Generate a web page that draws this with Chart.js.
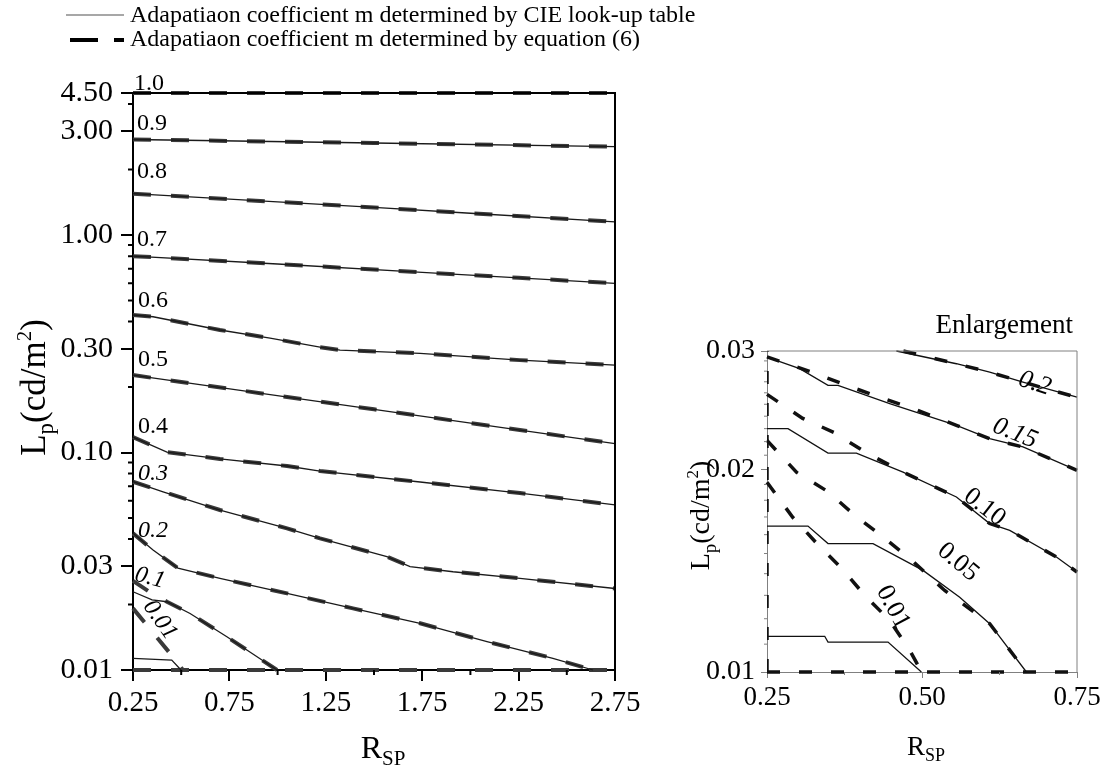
<!DOCTYPE html>
<html>
<head>
<meta charset="utf-8">
<script src="https://cdn.jsdelivr.net/npm/chart.js@4.4.1/dist/chart.umd.min.js"></script>
<style>
  body { margin: 0; background: #fff; width: 1110px; height: 784px; position: relative; overflow: hidden; }
  canvas { position: absolute; }
  #mainChart { left: 0; top: 0; }
  #zoomChart { left: 640px; top: 280px; }
</style>
</head>
<body>
<canvas id="mainChart" width="760" height="784"></canvas>
<canvas id="zoomChart" width="470" height="504"></canvas>
<script>
const legendLabels = [
    'Adapatiaon coefficient m determined by CIE look-up table',
    'Adapatiaon coefficient m determined by equation (6)',
];

// left panel: axis ticks
const mainXTicks = [0.25, 0.75, 1.25, 1.75, 2.25, 2.75];
const mainXMinor = [0.5, 1.0, 1.5, 2.0, 2.5];
const mainYTicks = [0.01, 0.03, 0.1, 0.3, 1, 3, 4.5];
const mainYMinor = [0.02, 0.04, 0.05, 0.06, 0.07, 0.08, 0.09, 0.2, 0.4, 0.5, 0.6, 0.7, 0.8, 0.9, 2, 4];

// left panel: contour lines as [R_SP, L_p] pairs
const cie_1_0 = [[0.25, 4.5], [2.75, 4.5]];
const cie_0_9 = [[0.25, 2.75], [1.5, 2.65], [2.75, 2.55]];
const cie_0_8 = [[0.25, 1.55], [1.0, 1.42], [1.5, 1.34], [2.0, 1.26], [2.75, 1.15]];
const cie_0_7 = [[0.25, 0.80], [1.0, 0.736], [1.75, 0.674], [2.25, 0.636], [2.75, 0.60]];
const cie_0_6 = [[0.25, 0.429], [0.354, 0.421], [0.701, 0.366], [0.961, 0.336], [1.22, 0.305], [1.324, 0.296], [1.739, 0.286], [2.257, 0.266], [2.75, 0.2525]];
const cie_0_5 = [[0.25, 0.227], [1.5, 0.158], [2.75, 0.110]];
const cie_0_4 = [[0.25, 0.1178], [0.426, 0.1005], [0.701, 0.0934], [1.049, 0.0867], [1.22, 0.0822], [1.739, 0.0732], [2.257, 0.0651], [2.75, 0.0574]];
const cie_0_3 = [[0.25, 0.0734], [0.406, 0.066], [0.701, 0.0544], [1.049, 0.0448], [1.22, 0.0403], [1.567, 0.0332], [1.687, 0.0299], [1.91, 0.0283], [2.257, 0.0264], [2.75, 0.0237]];
const cie_0_2 = [[0.25, 0.0425], [0.354, 0.0356], [0.483, 0.0294], [0.701, 0.0264], [1.049, 0.0225], [1.391, 0.0192], [1.739, 0.0164], [2.086, 0.0135], [2.428, 0.01132], [2.636, 0.01]];
const cie_0_1 = [[0.25, 0.0229], [0.349, 0.021], [0.426, 0.0206], [0.546, 0.0182], [0.737, 0.01422], [0.997, 0.01]];
const cie_0_01 = [[0.25, 0.01132], [0.451, 0.0111], [0.499, 0.01]];
const eq_0_1 = [[0.25, 0.0257], [0.328, 0.0231], [0.426, 0.0206], [0.546, 0.0182], [0.737, 0.01422], [0.997, 0.01]];
const eq_0_01 = [[0.25, 0.0192], [0.338, 0.01544], [0.442, 0.01193], [0.509, 0.01]];
const eq_floor = [[0.25, 0.01], [2.75, 0.01]];

const mainLabelText = ['1.0', '0.9', '0.8', '0.7', '0.6', '0.5', '0.4', '0.3', '0.2', '0.1', '0.01'];
const mainLabelR = [0.333, 0.349, 0.349, 0.349, 0.354, 0.354, 0.354, 0.354, 0.354, 0.338, 0.39];
const mainLabelL = [4.95, 3.24, 1.95, 0.948, 0.50, 0.266, 0.131, 0.0796, 0.0436, 0.0265, 0.017];

// right panel (enlargement)
const zoomXTicks = [0.25, 0.5, 0.75];
const zoomXMinor = [0.375, 0.625];
const zoomYTicks = [0.01, 0.02, 0.03];
const zoomYMinor = [0.011, 0.012, 0.013, 0.014, 0.015, 0.016, 0.017, 0.018, 0.019,
    0.021, 0.022, 0.023, 0.024, 0.025, 0.026, 0.027, 0.028, 0.029];

const zoomCie_0_2 = [[0.4587, 0.03], [0.5555, 0.02872], [0.6092, 0.02791], [0.6629, 0.02697], [0.75, 0.02562]];
const zoomCie_0_15 = [[0.25, 0.02938], [0.3027, 0.02824], [0.3484, 0.02667], [0.3645, 0.02667], [0.4479, 0.02505], [0.5555, 0.02326], [0.6092, 0.02222], [0.6629, 0.0216], [0.75, 0.01994]];
const zoomCie_0_10 = [[0.25, 0.023], [0.2839, 0.023], [0.3484, 0.02115], [0.3942, 0.02115], [0.4694, 0.01982], [0.5555, 0.0182], [0.6092, 0.01662], [0.6415, 0.01624], [0.7168, 0.01482], [0.75, 0.01408]];
const zoomCie_0_05 = [[0.25, 0.01648], [0.3161, 0.01648], [0.3484, 0.01552], [0.421, 0.01552], [0.5016, 0.01416], [0.5608, 0.01292], [0.6092, 0.0118], [0.6684, 0.01]];
const zoomCie_0_01 = [[0.25, 0.0113], [0.3431, 0.0113], [0.3484, 0.01108], [0.4452, 0.01108], [0.499, 0.01]];
const zoomEq_0_2 = [[0.47, 0.03], [0.5555, 0.02872], [0.6092, 0.0279], [0.6629, 0.02697], [0.75, 0.0256]];
const zoomEq_0_15 = [[0.25, 0.0294], [0.3237, 0.02788], [0.3785, 0.02667], [0.4318, 0.0256], [0.485, 0.02465], [0.5555, 0.02326], [0.6092, 0.02222], [0.6629, 0.0216], [0.75, 0.01994]];
const zoomEq_0_10 = [[0.25, 0.02586], [0.3076, 0.02382], [0.3576, 0.02271], [0.4092, 0.0212], [0.4694, 0.01982], [0.5555, 0.0182], [0.6092, 0.01662], [0.6415, 0.01624], [0.7168, 0.01482], [0.75, 0.01408]];
const zoomEq_0_05 = [[0.25, 0.02209], [0.2979, 0.0198], [0.3479, 0.01855], [0.3898, 0.01715], [0.4398, 0.0158], [0.4834, 0.01466], [0.5366, 0.01322], [0.6092, 0.0118], [0.6684, 0.01]];
const zoomEq_0_01 = [[0.25, 0.01914], [0.2915, 0.01698], [0.3302, 0.01553], [0.3705, 0.01426], [0.4076, 0.013], [0.4479, 0.01193], [0.4802, 0.01077], [0.4995, 0.01]];
const zoomEq_floor = [[0.25, 0.01], [0.75, 0.01]];
const zoomEq_edge = [[0.25, 0.01], [0.25, 0.03]];

const zoomLabelText = ['0.2', '0.15', '0.10', '0.05', '0.01'];
const zoomLabelR = [0.682, 0.65, 0.601, 0.558, 0.453];
const zoomLabelL = [0.02685, 0.02263, 0.01757, 0.01456, 0.01248];

// styles
const SERIF = '"Liberation Serif", "Times New Roman", serif';
const mainLabelAngle = [0, 0, 0, 0, 0, 0, 0, 0, 0, 15, 55];
const mainLabelItalic = [false, false, false, false, false, false, false, true, true, true, true];
const zoomLabelAngle = [18, 22, 38, 40, 62];
const zoomLabelItalic = [true, true, false, false, false];

function lineSet(points, color, width, dash, clip) {
    return {
        data: points.map(([x, y]) => ({ x, y })),
        showLine: true,
        pointRadius: 0,
        borderColor: color,
        borderWidth: width,
        borderDash: dash,
        borderCapStyle: 'butt',
        tension: 0,
        clip: clip === undefined ? 6 : clip,
    };
}

function drawRich(ctx, parts, x, y, angle) {
    ctx.save();
    ctx.translate(x, y);
    ctx.rotate(angle);
    ctx.textAlign = 'left';
    ctx.textBaseline = 'alphabetic';
    ctx.fillStyle = '#000';
    let total = 0;
    parts.forEach(p => { ctx.font = p[1] + 'px ' + SERIF; total += ctx.measureText(p[0]).width; });
    let cx = -total / 2;
    parts.forEach(p => {
        ctx.font = p[1] + 'px ' + SERIF;
        ctx.fillText(p[0], cx, p[2]);
        cx += ctx.measureText(p[0]).width;
    });
    ctx.restore();
}

function drawContourLabels(chart, text, xs, ys, angles, italic, size) {
    const { ctx, scales } = chart;
    ctx.save();
    ctx.fillStyle = '#000';
    ctx.textAlign = 'center';
    ctx.textBaseline = 'middle';
    text.forEach((t, i) => {
        ctx.save();
        ctx.translate(scales.x.getPixelForValue(xs[i]), scales.y.getPixelForValue(ys[i]));
        ctx.rotate(angles[i] * Math.PI / 180);
        ctx.font = (italic[i] ? 'italic ' : '') + size + 'px ' + SERIF;
        ctx.fillText(t, 0, 0);
        ctx.restore();
    });
    ctx.restore();
}

function drawMinorTicks(chart, xs, ys, len, color, width) {
    const { ctx, chartArea, scales } = chart;
    ctx.save();
    ctx.strokeStyle = color;
    ctx.lineWidth = width;
    ctx.beginPath();
    xs.forEach(v => {
        const px = scales.x.getPixelForValue(v);
        ctx.moveTo(px, chartArea.bottom);
        ctx.lineTo(px, chartArea.bottom + len);
    });
    ys.forEach(v => {
        const py = scales.y.getPixelForValue(v);
        ctx.moveTo(chartArea.left, py);
        ctx.lineTo(chartArea.left - len, py);
    });
    ctx.stroke();
    ctx.restore();
}

const mainDecor = {
    id: 'mainDecor',
    afterDatasetsDraw(chart) {
        const { ctx, chartArea } = chart;
        ctx.save();
        ctx.strokeStyle = '#000';
        ctx.lineWidth = 2;
        ctx.beginPath();
        ctx.moveTo(chartArea.left, chartArea.top);
        ctx.lineTo(chartArea.right, chartArea.top);
        ctx.lineTo(chartArea.right, chartArea.bottom);
        ctx.stroke();
        ctx.restore();
    },
    afterDraw(chart) {
        const { ctx, chartArea } = chart;
        drawMinorTicks(chart, mainXMinor, mainYMinor, 5, '#000', 2);
        drawContourLabels(chart, mainLabelText, mainLabelR, mainLabelL, mainLabelAngle, mainLabelItalic, 24);

        // legend
        ctx.save();
        ctx.strokeStyle = '#8a8a8a';
        ctx.lineWidth = 1.3;
        ctx.beginPath();
        ctx.moveTo(66, 15);
        ctx.lineTo(124, 15);
        ctx.stroke();
        ctx.strokeStyle = '#000';
        ctx.lineWidth = 4;
        ctx.setLineDash([28, 16]);
        ctx.beginPath();
        ctx.moveTo(70, 40);
        ctx.lineTo(124, 40);
        ctx.stroke();
        ctx.setLineDash([]);
        ctx.fillStyle = '#000';
        ctx.font = '24px ' + SERIF;
        ctx.textAlign = 'left';
        ctx.textBaseline = 'middle';
        ctx.fillText(legendLabels[0], 130, 16);
        ctx.fillText(legendLabels[1], 130, 40);
        ctx.restore();

        const cy = (chartArea.top + chartArea.bottom) / 2;
        drawRich(ctx, [['L', 35, 0], ['p', 23, 8], ['(cd/m', 35, 0], ['2', 21, -14], [')', 35, 0]], 45, cy + 6, -Math.PI / 2);
        drawRich(ctx, [['R', 32, 0], ['SP', 21, 7]], (chartArea.left + chartArea.right) / 2 + 9, chartArea.bottom + 88, 0);
    },
};

const zoomDecor = {
    id: 'zoomDecor',
    afterDatasetsDraw(chart) {
        const { ctx, chartArea } = chart;
        ctx.save();
        ctx.strokeStyle = '#808080';
        ctx.lineWidth = 1;
        ctx.beginPath();
        ctx.moveTo(chartArea.left, chartArea.top);
        ctx.lineTo(chartArea.right, chartArea.top);
        ctx.lineTo(chartArea.right, chartArea.bottom);
        ctx.stroke();
        ctx.restore();
    },
    afterDraw(chart) {
        const { ctx, chartArea } = chart;
        drawMinorTicks(chart, zoomXMinor, zoomYMinor, 3, '#808080', 1);
        drawContourLabels(chart, zoomLabelText, zoomLabelR, zoomLabelL, zoomLabelAngle, zoomLabelItalic, 26);
        ctx.save();
        ctx.fillStyle = '#000';
        ctx.font = '27px ' + SERIF;
        ctx.textAlign = 'right';
        ctx.textBaseline = 'middle';
        ctx.fillText('Enlargement', chartArea.right - 4, chartArea.top - 25);
        ctx.restore();
        const cy = (chartArea.top + chartArea.bottom) / 2;
        drawRich(ctx, [['L', 28, 0], ['p', 19, 7], ['(cd/m', 28, 0], ['2', 17, -11], [')', 28, 0]], 69, cy + 4, -Math.PI / 2);
        drawRich(ctx, [['R', 27, 0], ['SP', 18, 6]], (chartArea.left + chartArea.right) / 2 + 4, chartArea.bottom + 83, 0);
    },
};

function axisOptions(type, min, max, ticks, size, fixed, color, width, tickLen, pad) {
    return {
        type: type,
        min: min,
        max: max,
        afterBuildTicks: s => { s.ticks = ticks.map(v => ({ value: v })); },
        afterFit: s => { if (fixed.width) s.width = fixed.width; else s.height = fixed.height; },
        ticks: {
            callback: v => Number(v).toFixed(2),
            font: { family: SERIF, size: size },
            color: '#000',
            padding: pad,
            autoSkip: false,
            maxRotation: 0,
            minRotation: 0,
        },
        grid: { drawOnChartArea: false, drawTicks: true, tickLength: tickLen, color: color, lineWidth: width },
        border: { color: color, width: width },
    };
}

const solidMain = ['#1a1a1a', 1.3, []];
const dashMain = ['#3a3a3a', 4, [18, 20]];
const mainSolidLines = [cie_1_0, cie_0_9, cie_0_8, cie_0_7, cie_0_6, cie_0_5, cie_0_4, cie_0_3, cie_0_2, cie_0_1, cie_0_01];
const mainDashLines = [cie_1_0, cie_0_9, cie_0_8, cie_0_7, cie_0_6, cie_0_5, cie_0_4, cie_0_3, cie_0_2, eq_0_1, eq_0_01, eq_floor];

new Chart(document.getElementById('mainChart'), {
    type: 'scatter',
    data: {
        datasets: [
            ...mainSolidLines.map(p => lineSet(p, ...solidMain)),
            ...mainDashLines.map(p => lineSet(p, ...dashMain)),
        ],
    },
    options: {
        responsive: false,
        animation: false,
        devicePixelRatio: 1,
        layout: { padding: { top: 93, right: 145, bottom: 0, left: 0 } },
        plugins: { legend: { display: false }, tooltip: { enabled: false } },
        scales: {
            x: axisOptions('linear', 0.25, 2.75, mainXTicks, 29, { height: 114 }, '#000', 2, 11, 5),
            y: axisOptions('logarithmic', 0.01, 4.5, mainYTicks, 30, { width: 133 }, '#000', 2, 12, 8),
        },
    },
    plugins: [mainDecor],
});

const solidZoom = ['#111', 1.3, []];
const dashZoom = ['#111', 3.5, [13, 19]];
const zoomSolidLines = [zoomCie_0_2, zoomCie_0_15, zoomCie_0_10, zoomCie_0_05, zoomCie_0_01];
const zoomDashLines = [zoomEq_0_2, zoomEq_0_15, zoomEq_0_10, zoomEq_0_05, zoomEq_0_01, zoomEq_floor];

new Chart(document.getElementById('zoomChart'), {
    type: 'scatter',
    data: {
        datasets: [
            ...zoomSolidLines.map(p => lineSet(p, ...solidZoom)),
            ...zoomDashLines.map(p => lineSet(p, ...dashZoom)),
            lineSet(zoomEq_edge, ...dashZoom, 0),
        ],
    },
    options: {
        responsive: false,
        animation: false,
        devicePixelRatio: 1,
        layout: { padding: { top: 71, right: 33, bottom: 0, left: 0 } },
        plugins: { legend: { display: false }, tooltip: { enabled: false } },
        scales: {
            x: axisOptions('linear', 0.25, 0.75, zoomXTicks, 27, { height: 112 }, '#808080', 1, 6, 4),
            y: axisOptions('logarithmic', 0.01, 0.03, zoomYTicks, 28, { width: 127 }, '#808080', 1, 6, 6),
        },
    },
    plugins: [zoomDecor],
});
</script>
</body>
</html>
